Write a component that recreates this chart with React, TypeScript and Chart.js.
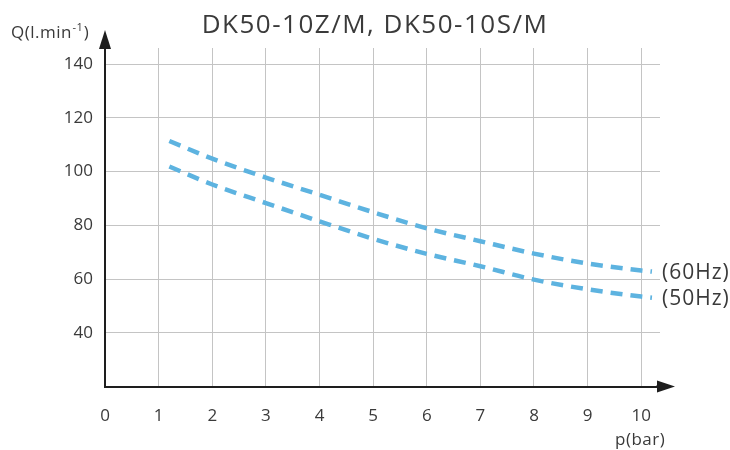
import React, { useEffect, useRef } from "react";
import { Chart, registerables } from "chart.js";

Chart.register(...registerables);

const pressure = [1.2, 2, 3, 4, 5, 6, 7, 8, 9, 10, 10.2];
const flow60Hz = [111.4, 104.8, 97.8, 91.4, 84.9, 78.9, 74.1, 69.5, 65.8, 63.2, 62.8];
const flow50Hz = [101.9, 95.2, 88.3, 81.5, 75.0, 69.4, 64.8, 59.8, 56.2, 53.5, 53.1];
const xTicks = [0, 1, 2, 3, 4, 5, 6, 7, 8, 9, 10];
const yTicks = [40, 60, 80, 100, 120, 140];
const seriesLabels = ["(60Hz)", "(50Hz)"];
const titleText = "DK50-10Z/M, DK50-10S/M";
const xAxisLabel = "p(bar)";

const FONT = "'Open Sans', sans-serif";
const LINE_COLOR = "#5db3e0";
const AXIS_COLOR = "#1e1e1e";
const TEXT_COLOR = "#3a3a3a";

const decorPlugin = {
  id: "decor",
  afterDraw(chart: any) {
    const { ctx, chartArea } = chart;
    const { left, right, top, bottom } = chartArea;
    ctx.save();
    // Axis arrows
    ctx.fillStyle = AXIS_COLOR;
    ctx.strokeStyle = AXIS_COLOR;
    ctx.beginPath();
    ctx.moveTo(left, top - 18);
    ctx.lineTo(left - 6, top + 1);
    ctx.lineTo(left + 6, top + 1);
    ctx.closePath();
    ctx.fill();
    ctx.lineWidth = 2;
    ctx.beginPath();
    ctx.moveTo(right - 4, bottom);
    ctx.lineTo(right + 2, bottom);
    ctx.stroke();
    ctx.beginPath();
    ctx.moveTo(right + 15, bottom);
    ctx.lineTo(right - 3, bottom - 6);
    ctx.lineTo(right - 3, bottom + 6);
    ctx.closePath();
    ctx.fill();

    // Title
    ctx.fillStyle = "#3a3a3a";
    ctx.font = `26px ${FONT}`;
    (ctx as any).letterSpacing = "1.5px";
    ctx.textAlign = "center";
    ctx.textBaseline = "middle";
    ctx.fillText(titleText, 375, 26);

    // Y axis label with superscript
    (ctx as any).letterSpacing = "0.5px";
    ctx.fillStyle = TEXT_COLOR;
    ctx.textAlign = "left";
    ctx.textBaseline = "alphabetic";
    ctx.font = `17px ${FONT}`;
    let x = 11;
    const base = 38;
    ctx.fillText("Q(l.min", x, base);
    x += ctx.measureText("Q(l.min").width;
    ctx.font = `11px ${FONT}`;
    ctx.fillText("-1", x + 0.5, base - 7);
    x += ctx.measureText("-1").width + 1;
    ctx.font = `17px ${FONT}`;
    ctx.fillText(")", x, base);

    // X axis label
    ctx.textBaseline = "middle";
    ctx.font = `17px ${FONT}`;
    ctx.fillText(xAxisLabel, 615, 440);

    // Series labels at end of lines
    (ctx as any).letterSpacing = "1px";
    ctx.font = `21px ${FONT}`;
    chart.data.datasets.forEach((ds: any, i: number) => {
      const last = ds.data[ds.data.length - 1];
      const py = chart.scales.y.getPixelForValue(last.y);
      ctx.fillText(seriesLabels[i], 662, py + 1);
    });
    ctx.restore();
  },
};

export default function App() {
  const canvasRef = useRef<HTMLCanvasElement | null>(null);

  useEffect(() => {
    document.body.style.margin = "0";
    const canvas = canvasRef.current;
    if (!canvas) return;
    const toPoints = (ys: number[]) => pressure.map((p, i) => ({ x: p, y: ys[i] }));
    const chart = new Chart(canvas, {
      type: "line",
      data: {
        datasets: [
          {
            label: seriesLabels[0],
            data: toPoints(flow60Hz),
            borderColor: LINE_COLOR,
            borderWidth: 4.5,
            borderDash: [12, 8],
            borderCapStyle: "butt",
            pointRadius: 0,
            cubicInterpolationMode: "monotone",
            fill: false,
          },
          {
            label: seriesLabels[1],
            data: toPoints(flow50Hz),
            borderColor: LINE_COLOR,
            borderWidth: 4.5,
            borderDash: [12, 8],
            borderCapStyle: "butt",
            pointRadius: 0,
            cubicInterpolationMode: "monotone",
            fill: false,
          },
        ],
      },
      options: {
        animation: false,
        responsive: false,
        devicePixelRatio: 1,
        layout: { padding: { top: 48, right: 70, left: 0, bottom: 0 } },
        plugins: {
          legend: { display: false },
          tooltip: { enabled: false },
          title: { display: false },
        },
        scales: {
          x: {
            type: "linear",
            min: 0,
            max: 10.35,
            afterBuildTicks: (scale: any) => {
              scale.ticks = xTicks.map((v) => ({ value: v }));
            },
            afterFit: (scale: any) => {
              scale.height = 63.4;
            },
            grid: {
              color: (c: any) => (c.tick && c.tick.value === 0 ? "rgba(0,0,0,0)" : "#c4c4c4"),
              lineWidth: 1,
              drawTicks: false,
            },
            border: { color: AXIS_COLOR, width: 2 },
            ticks: {
              padding: 19,
              color: TEXT_COLOR,
              font: { family: FONT, size: 17 },
              autoSkip: false,
              maxRotation: 0,
            },
          },
          y: {
            type: "linear",
            min: 20,
            max: 146,
            afterBuildTicks: (scale: any) => {
              scale.ticks = yTicks.map((v) => ({ value: v }));
            },
            afterFit: (scale: any) => {
              scale.width = 105;
            },
            grid: {
              color: "#c4c4c4",
              lineWidth: 1,
              drawTicks: false,
            },
            border: { color: AXIS_COLOR, width: 2 },
            ticks: {
              padding: 12,
              color: TEXT_COLOR,
              font: { family: FONT, size: 17 },
            },
          },
        },
      },
      plugins: [decorPlugin],
    });
    return () => chart.destroy();
  }, []);

  return (
    <div style={{ width: 730, height: 450, background: "#fff" }}>
      <canvas ref={canvasRef} width={730} height={450} />
    </div>
  );
}
